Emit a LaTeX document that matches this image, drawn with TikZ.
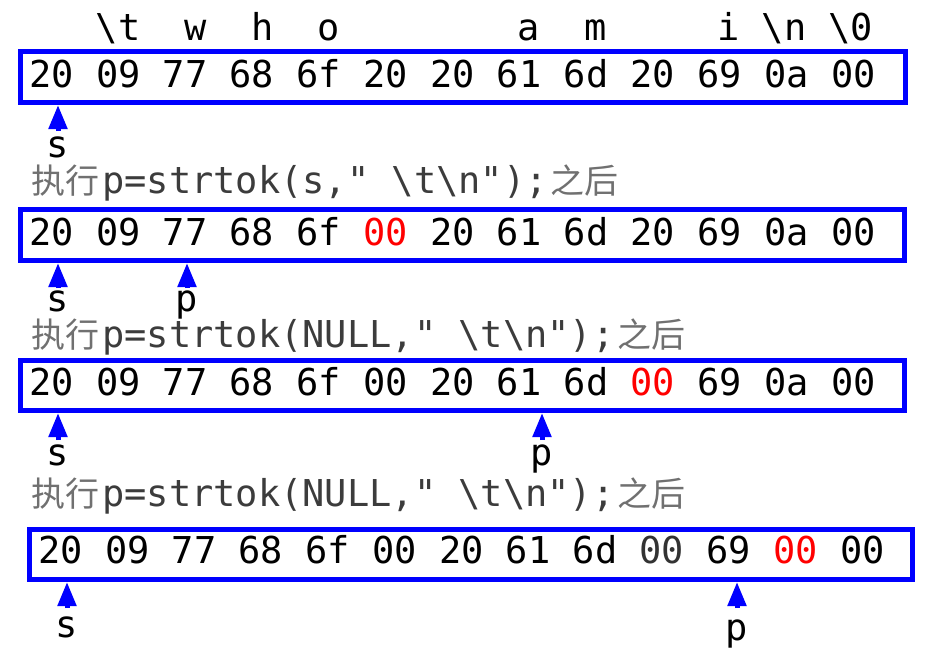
\documentclass[tikz,border=0pt]{standalone}
\usepackage{fontspec}
\setmonofont{DejaVu Sans Mono}
\newfontfamily\cjk{Noto Sans CJK SC}
\usetikzlibrary{arrows.meta}
\definecolor{capgrey}{HTML}{3C3C3C}
\definecolor{cjkgrey}{HTML}{707070}
\definecolor{dimgrey}{HTML}{333333}
\newcommand{\bs}{\textbackslash}
\newcommand{\hx}{\fontsize{37}{44}\selectfont\ttfamily}
\newcommand{\zh}[1]{{\cjk\fontsize{34}{40}\selectfont\color{cjkgrey}#1}}
\begin{document}
\begin{tikzpicture}[x=1pt,y=-1pt,
  rowbox/.style={draw=blue, line width=5pt, inner sep=0pt, outer sep=0pt},
  bytes/.style={anchor=base west, inner sep=0pt, font=\hx, text=black},
  chr/.style={anchor=base west, inner sep=0pt, font=\hx, text=black},
  captxt/.style={anchor=base west, inner sep=0pt, font=\hx, text=capgrey},
  lbl/.style={anchor=base, inner sep=0pt, font=\hx, text=black},
  ptr/.style={blue, line width=5pt, -{Triangle[width=18pt,length=24pt]}}]
\useasboundingbox (0,0) rectangle (931,659);

% top character labels
\node[chr] (ct) at (95.6,40) {\bs t};
\node[chr] (cw) at (184.4,40) {w};
\node[chr] (ch) at (251,40) {h};
\node[chr] (co) at (317.6,40) {o};
\node[chr] (ca) at (517.4,40) {a};
\node[chr] (cm) at (584,40) {m};
\node[chr] (ci) at (717.2,40) {i};
\node[chr] (cn) at (761.6,40) {\bs n};
\node[chr] (cz) at (828.2,40) {\bs 0};

% row 1
\node[rowbox, minimum width=884.5pt, minimum height=51.5pt] (b1) at (462.75,76.75) {};
\node[bytes] (r1) at (29,87) {20 09 77 68 6f 20 20 61 6d 20 69 0a 00};
\coordinate (t1s) at (58,105);
\node[lbl] (s1) at (58,157) {s};
\draw[ptr, shorten <=5pt] (s1.north) -- (t1s);

% caption 1
\node[captxt] (c1) at (31,193) {\zh{执行}\hspace{3pt}p=strtok(s," \bs t\bs n");\hspace{3pt}\zh{之后}};

% row 2
\node[rowbox, minimum width=884pt, minimum height=51.5pt] (b2) at (462.5,234.75) {};
\node[bytes] (r2) at (29,245) {20 09 77 68 6f \textcolor{red}{00} 20 61 6d 20 69 0a 00};
\coordinate (t2s) at (58,263);
\coordinate (t2p) at (187,263);
\node[lbl] (s2) at (58,311) {s};
\node[lbl] (p2) at (187,311) {p};
\draw[ptr, shorten <=2pt] (s2.north) -- (t2s);
\draw[ptr, shorten <=2pt] (p2.north) -- (t2p);

% caption 2
\node[captxt] (c2) at (31,347) {\zh{执行}\hspace{3pt}p=strtok(NULL," \bs t\bs n");\hspace{3pt}\zh{之后}};

% row 3
\node[rowbox, minimum width=884pt, minimum height=50.5pt] (b3) at (462.5,385.25) {};
\node[bytes] (r3) at (29,395) {20 09 77 68 6f 00 20 61 6d \textcolor{red}{00} 69 0a 00};
\coordinate (t3s) at (58,413);
\coordinate (t3p) at (542,413);
\node[lbl] (s3) at (58,465) {s};
\node[lbl] (p3) at (542,465) {p};
\draw[ptr, shorten <=4pt] (s3.north) -- (t3s);
\draw[ptr, shorten <=4pt] (p3.north) -- (t3p);

% caption 3
\node[captxt] (c3) at (31,506) {\zh{执行}\hspace{3pt}p=strtok(NULL," \bs t\bs n");\hspace{3pt}\zh{之后}};

% row 4
\node[rowbox, minimum width=883pt, minimum height=50.5pt] (b4) at (470.5,554.25) {};
\node[bytes] (r4) at (38,563) {20 09 77 68 6f 00 20 61 6d \textcolor{dimgrey}{00} 69 \textcolor{red}{00} 00};
\coordinate (t4s) at (67,582);
\coordinate (t4p) at (737,582);
\node[lbl] (s4) at (67,637) {s};
\node[lbl] (p4) at (737,640) {p};
\draw[ptr, shorten <=8pt] (s4.north) -- (t4s);
\draw[ptr, shorten <=11pt] (p4.north) -- (t4p);
\end{tikzpicture}
\end{document}
